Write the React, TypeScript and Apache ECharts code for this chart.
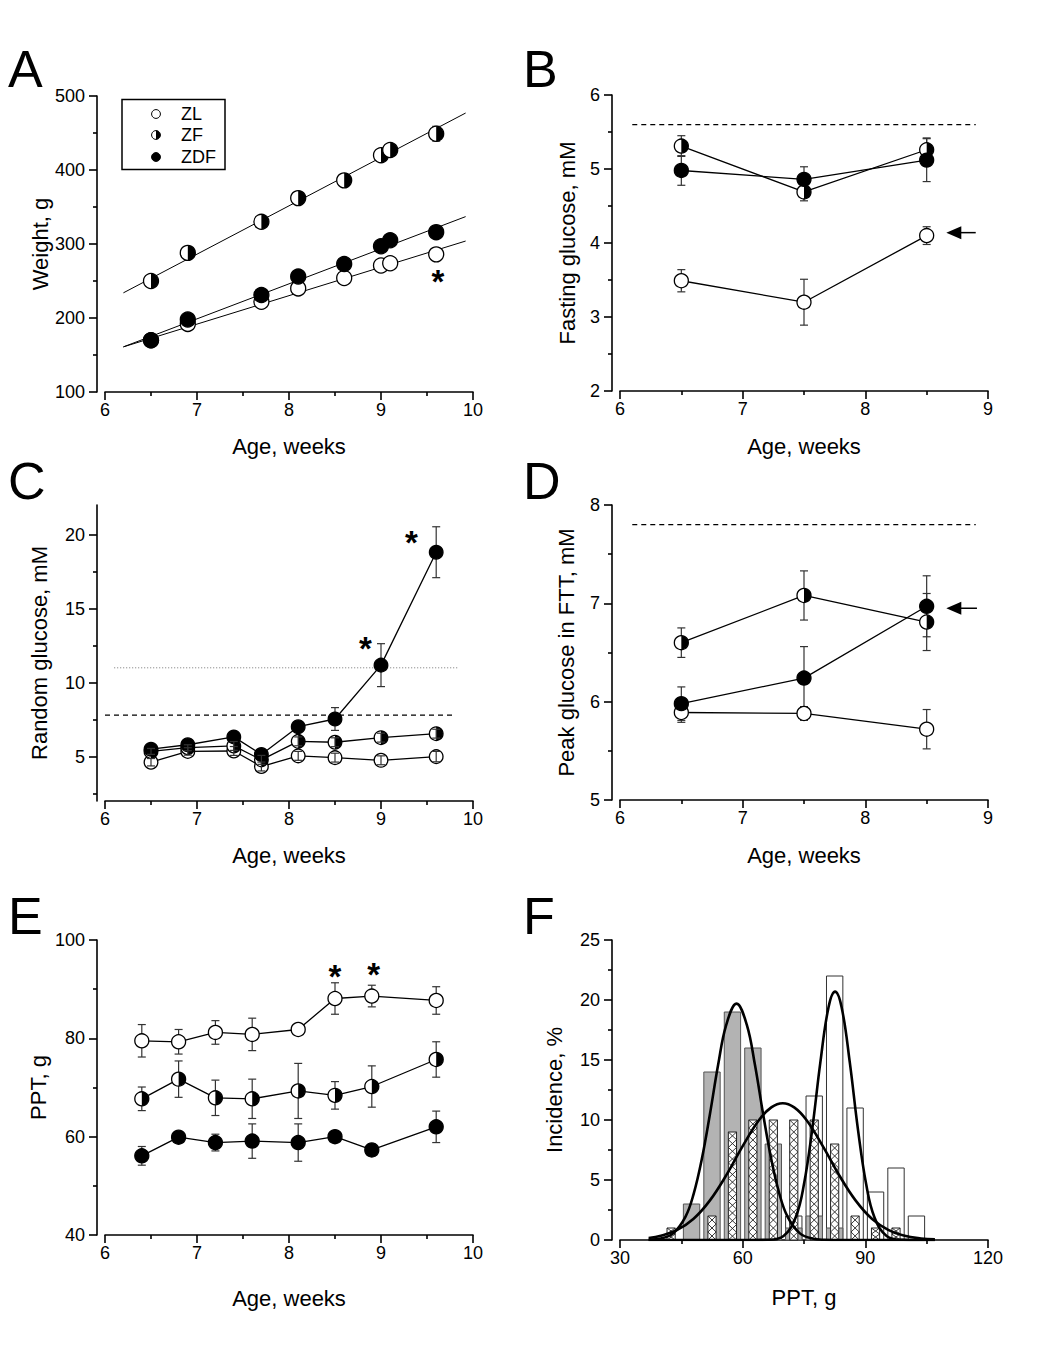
import React, { useEffect, useRef } from "react";
import * as echarts from "echarts";

const FONT = '"Liberation Sans", Arial, Helvetica, sans-serif';

// ---------- Panel A: body weight ----------
const A_AGE = [6.5, 6.9, 7.7, 8.1, 8.6, 9.0, 9.1, 9.6];
const A_WEIGHT_ZL = [170, 192, 222, 240, 254, 271, 274, 286];
const A_WEIGHT_ZF = [250, 288, 330, 362, 386, 420, 427, 449];
const A_WEIGHT_ZDF = [170, 198, 231, 256, 273, 297, 305, 316];
const A_ERR_ZF = [0, 0, 0, 0, 0, 0, 0, 10];
const A_FIT_AGE = [6.2, 9.92];
const A_FIT_ZL = [161, 304];
const A_FIT_ZF = [234, 477];
const A_FIT_ZDF = [161, 337];
const A_STAR_AGE = [9.62];
const A_STAR_Y = [253];

// ---------- Panel B: fasting glucose ----------
const B_AGE = [6.5, 7.5, 8.5];
const B_ZL = [3.49, 3.2, 4.1];
const B_ERR_ZL = [0.15, 0.31, 0.12];
const B_ZF = [5.31, 4.69, 5.26];
const B_ERR_ZF = [0.14, 0.12, 0.16];
const B_ZDF = [4.98, 4.86, 5.12];
const B_ERR_ZDF = [0.2, 0.17, 0.29];
const B_LIMIT_AGE = [6.1, 8.9];
const B_LIMIT = [5.6, 5.6];
const B_ARROW = [8.9, 8.66, 4.14];

// ---------- Panel C: random glucose ----------
const C_AGE = [6.5, 6.9, 7.4, 7.7, 8.1, 8.5, 9.0, 9.6];
const C_ZL = [4.62, 5.35, 5.38, 4.33, 5.05, 4.93, 4.75, 5.0];
const C_ERR_ZL = [0.25, 0.25, 0.3, 0.3, 0.3, 0.3, 0.3, 0.35];
const C_ZF = [5.35, 5.6, 5.72, 4.78, 6.03, 5.97, 6.28, 6.55];
const C_ERR_ZF = [0.2, 0.2, 0.3, 0.3, 0.3, 0.3, 0.3, 0.3];
const C_ZDF = [5.5, 5.8, 6.33, 5.14, 7.02, 7.54, 11.18, 18.81];
const C_ERR_ZDF = [0.2, 0.25, 0.3, 0.3, 0.3, 0.77, 1.45, 1.72];
const C_DIAB_AGE = [6.0, 9.8];
const C_DIAB = [7.8, 7.8];
const C_HIGH_AGE = [6.1, 9.85];
const C_HIGH = [11, 11];
const C_STAR_AGE = [8.83, 9.33];
const C_STAR_Y = [12.54, 19.66];
const C_MAJOR_TICKS = [5, 10, 15, 20];
const C_MINOR_TICKS = [2.5, 7.5, 12.5, 17.5];

// ---------- Panel D: peak glucose in FTT ----------
const D_AGE = [6.5, 7.5, 8.5];
const D_ZL = [5.89, 5.88, 5.72];
const D_ERR_ZL = [0.1, 0.07, 0.2];
const D_ZF = [6.6, 7.08, 6.81];
const D_ERR_ZF = [0.15, 0.25, 0.29];
const D_ZDF = [5.98, 6.24, 6.97];
const D_ERR_ZDF = [0.17, 0.32, 0.31];
const D_LIMIT_AGE = [6.1, 8.9];
const D_LIMIT = [7.8, 7.8];
const D_ARROW = [8.91, 8.66, 6.95];

// ---------- Panel E: PPT vs age ----------
const E_AGE = [6.4, 6.8, 7.2, 7.6, 8.1, 8.5, 8.9, 9.6];
const E_ZL = [79.5, 79.3, 81.2, 80.8, 81.8, 88.1, 88.6, 87.7];
const E_ERR_ZL = [3.3, 2.5, 2.4, 3.3, 1.0, 3.2, 2.2, 2.8];
const E_ZF = [67.7, 71.7, 67.9, 67.7, 69.3, 68.4, 70.2, 75.7];
const E_ERR_ZF = [2.4, 3.7, 3.6, 4.0, 5.6, 2.8, 4.2, 3.6];
const E_ZDF = [56.1, 59.9, 58.8, 59.1, 58.8, 60.0, 57.3, 62.0];
const E_ERR_ZDF = [1.9, 0.8, 1.7, 3.5, 3.8, 1.0, 1.2, 3.2];
const E_STAR_AGE = [8.5, 8.92];
const E_STAR_Y = [93.2, 93.5];

// ---------- Panel F: PPT histogram ----------
const F_BIN = [42.5, 47.5, 52.5, 57.5, 62.5, 67.5, 72.5, 77.5, 82.5, 87.5, 92.5, 97.5, 102.5];
const F_ZDF = [0, 3, 14, 19, 16, 8, 1, 2, 1, 0, 0, 0, 0];
const F_ZF = [1, 0, 2, 9, 10, 10, 10, 10, 8, 2, 1, 1, 0];
const F_ZL = [0, 0, 0, 0, 0, 0, 2, 12, 22, 11, 4, 6, 2];
const F_FIT_X_ZDF = [37, 40, 43, 46, 48, 50, 52, 54, 56, 58.5, 61, 63, 65, 67, 69, 71, 74, 77, 80, 84, 107];
const F_FIT_ZDF = [0.02, 0.12, 0.55, 1.93, 3.83, 6.73, 10.5, 14.6, 17.95, 19.7, 17.95, 14.6, 10.5, 6.73, 3.83, 1.93, 0.55, 0.12, 0.02, 0, 0];
const F_FIT_X_ZF = [37, 40, 44, 48, 52, 56, 60, 64, 67, 69.8, 72.6, 75.6, 79.6, 83.6, 87.6, 91.6, 95.6, 99.6, 103.6, 107];
const F_FIT_ZF = [0.17, 0.35, 0.84, 1.77, 3.3, 5.4, 7.83, 10.0, 11.05, 11.4, 11.05, 10.0, 7.83, 5.4, 3.3, 1.77, 0.84, 0.35, 0.13, 0.05];
const F_FIT_X_ZL = [37, 62, 66, 70, 73, 75, 77, 79, 81, 82.6, 84.2, 86.2, 88.2, 90.2, 92.2, 95.2, 99.2, 103, 107];
const F_FIT_ZL = [0, 0, 0.02, 0.34, 1.92, 4.66, 9.2, 14.8, 19.4, 20.7, 19.4, 14.8, 9.2, 4.66, 1.92, 0.34, 0.02, 0, 0];

// ---------- layout ----------
const GRIDS = [
  { left: 105, top: 96, width: 368, height: 296 },
  { left: 620, top: 95, width: 368, height: 296 },
  { left: 105, top: 505, width: 368, height: 296 },
  { left: 620, top: 505, width: 368, height: 295 },
  { left: 105, top: 940, width: 368, height: 295 },
  { left: 620, top: 940, width: 368, height: 300 },
];

const pts = (xs: number[], ys: number[]) => xs.map((x, i) => [x, ys[i]]);
const errPts = (xs: number[], ys: number[], es: number[]) => xs.map((x, i) => [x, ys[i], es[i]]);

const LINE_STYLE = { color: "#000", width: 1.6 };

function xAxis(g: number, min: number, max: number, interval: number, name: string, nameGap: number) {
  return {
    type: "value", gridIndex: g, min, max, interval,
    name, nameLocation: "middle", nameGap, nameMoveOverlap: false,
    nameTextStyle: { fontSize: 22, fontFamily: FONT, color: "#000" },
    axisLine: { show: true, onZero: false, lineStyle: LINE_STYLE },
    axisTick: { show: true, inside: false, length: 8, lineStyle: LINE_STYLE },
    minorTick: { show: true, splitNumber: 2, length: 4, lineStyle: LINE_STYLE },
    axisLabel: { show: true, fontSize: 18, fontFamily: FONT, color: "#000", margin: 9, showMinLabel: true, showMaxLabel: true },
    splitLine: { show: false }, minorSplitLine: { show: false },
  };
}

function yAxis(g: number, min: number, max: number, interval: number | undefined, name: string, nameGap: number, extra: any = {}) {
  const base: any = {
    type: "value", gridIndex: g, min, max, offset: 8, position: "left",
    name, nameLocation: "middle", nameGap, nameMoveOverlap: false,
    nameTextStyle: { fontSize: 22, fontFamily: FONT, color: "#000" },
    axisLine: { show: true, onZero: false, lineStyle: LINE_STYLE },
    axisTick: { show: true, inside: false, length: 8, lineStyle: LINE_STYLE },
    minorTick: { show: true, splitNumber: 2, length: 4, lineStyle: LINE_STYLE },
    axisLabel: { show: true, fontSize: 18, fontFamily: FONT, color: "#000", margin: 12, showMinLabel: true, showMaxLabel: true },
    splitLine: { show: false }, minorSplitLine: { show: false },
  };
  if (interval !== undefined) base.interval = interval;
  return { ...base, ...extra };
}

function markerRender(kind: string, r: number) {
  return (_p: any, api: any) => {
    const c = api.coord([api.value(0), api.value(1)]);
    const cx = c[0], cy = c[1];
    if (kind === "open") {
      return { type: "circle", shape: { cx, cy, r }, style: { fill: "#fff", stroke: "#000", lineWidth: 1.3 } };
    }
    if (kind === "filled") {
      return { type: "circle", shape: { cx, cy, r }, style: { fill: "#000", stroke: "#000", lineWidth: 1.3 } };
    }
    return {
      type: "group",
      children: [
        { type: "circle", shape: { cx, cy, r }, style: { fill: "#fff" } },
        { type: "sector", shape: { cx, cy, r0: 0, r, startAngle: -Math.PI / 2, endAngle: Math.PI / 2, clockwise: true }, style: { fill: "#000" } },
        { type: "circle", shape: { cx, cy, r }, style: { fill: "none", stroke: "#000", lineWidth: 1.3 } },
      ],
    };
  };
}

function errRender(_p: any, api: any) {
  const x = api.value(0), y = api.value(1), e = api.value(2);
  if (!e) return null;
  const t = api.coord([x, y + e]);
  const b = api.coord([x, y - e]);
  const hw = 4;
  const st = { stroke: "#333", lineWidth: 1.2 };
  return {
    type: "group",
    children: [
      { type: "line", shape: { x1: t[0], y1: t[1], x2: b[0], y2: b[1] }, style: st },
      { type: "line", shape: { x1: t[0] - hw, y1: t[1], x2: t[0] + hw, y2: t[1] }, style: st },
      { type: "line", shape: { x1: b[0] - hw, y1: b[1], x2: b[0] + hw, y2: b[1] }, style: st },
    ],
  };
}

function arrowRender(_p: any, api: any) {
  const tail = api.coord([api.value(0), api.value(2)]);
  const tip = api.coord([api.value(1), api.value(2)]);
  const L = 15, H = 6.5;
  return {
    type: "group",
    children: [
      { type: "line", shape: { x1: tail[0], y1: tail[1], x2: tip[0] + L - 1, y2: tip[1] }, style: { stroke: "#000", lineWidth: 1.5 } },
      { type: "polygon", shape: { points: [[tip[0], tip[1]], [tip[0] + L, tip[1] - H], [tip[0] + L, tip[1] + H]] }, style: { fill: "#000" } },
    ],
  };
}

function starRender(_p: any, api: any) {
  const c = api.coord([api.value(0), api.value(1)]);
  return {
    type: "text", x: c[0], y: c[1] + 3,
    style: { text: "*", fontSize: 33, fontWeight: "bold", fontFamily: FONT, fill: "#000", align: "center", verticalAlign: "middle" },
  };
}

function barRender(kind: string, widthUnits: number) {
  return (_p: any, api: any) => {
    const x = api.value(0), v = api.value(1);
    if (!v) return null;
    const base = api.coord([x, 0]);
    const top = api.coord([x, v]);
    const w = api.size([widthUnits, 0])[0];
    const l = base[0] - w / 2;
    const h = base[1] - top[1];
    if (kind === "gray") {
      return { type: "rect", shape: { x: l, y: top[1], width: w, height: h }, style: { fill: "#b3b3b3", stroke: "#555", lineWidth: 1 } };
    }
    if (kind === "white") {
      return { type: "rect", shape: { x: l, y: top[1], width: w, height: h }, style: { fill: "#fff", stroke: "#333", lineWidth: 1 } };
    }
    const n = Math.max(1, Math.round(h / 8));
    const p = h / n;
    const r = l + w;
    const p1: number[][] = [];
    const p2: number[][] = [];
    for (let i = 0; i <= n; i++) {
      const yy = base[1] - i * p;
      p1.push([i % 2 === 0 ? l : r, yy]);
      p2.push([i % 2 === 0 ? r : l, yy]);
    }
    return {
      type: "group",
      children: [
        { type: "rect", shape: { x: l, y: top[1], width: w, height: h }, style: { fill: "#fff", stroke: "#222", lineWidth: 1 } },
        { type: "polyline", shape: { points: p1 }, style: { stroke: "#222", lineWidth: 0.9, fill: "none" } },
        { type: "polyline", shape: { points: p2 }, style: { stroke: "#222", lineWidth: 0.9, fill: "none" } },
      ],
    };
  };
}

const custom = (g: number, data: any[], renderItem: any, z = 3, yIdx?: number) => ({
  type: "custom", xAxisIndex: g, yAxisIndex: yIdx === undefined ? g : yIdx, data, renderItem, z, silent: true, clip: false,
});

const line = (g: number, data: any[], style: any = {}, z = 2) => ({
  type: "line", xAxisIndex: g, yAxisIndex: g, data, symbol: "none", silent: true, z,
  lineStyle: { color: "#000", width: 1.3, ...style },
});

function buildOption() {
  const series: any[] = [];
  // Panel A
  series.push(line(0, pts(A_FIT_AGE, A_FIT_ZL), { width: 1 }));
  series.push(line(0, pts(A_FIT_AGE, A_FIT_ZF), { width: 1 }));
  series.push(line(0, pts(A_FIT_AGE, A_FIT_ZDF), { width: 1 }));
  series.push(custom(0, errPts(A_AGE, A_WEIGHT_ZF, A_ERR_ZF), errRender, 3));
  series.push(custom(0, pts(A_AGE, A_WEIGHT_ZL), markerRender("open", 7.5), 4));
  series.push(custom(0, pts(A_AGE, A_WEIGHT_ZF), markerRender("half", 7.5), 4));
  series.push(custom(0, pts(A_AGE, A_WEIGHT_ZDF), markerRender("filled", 7.5), 4));
  series.push(custom(0, pts(A_STAR_AGE, A_STAR_Y), starRender, 5));

  // Panel B
  series.push(line(1, pts(B_LIMIT_AGE, B_LIMIT), { width: 1.2, type: [5, 4] }));
  series.push(custom(1, [B_ARROW], arrowRender, 3));
  series.push(custom(1, errPts(B_AGE, B_ZL, B_ERR_ZL), errRender, 3));
  series.push(custom(1, errPts(B_AGE, B_ZF, B_ERR_ZF), errRender, 3));
  series.push(custom(1, errPts(B_AGE, B_ZDF, B_ERR_ZDF), errRender, 3));
  series.push(line(1, pts(B_AGE, B_ZL)));
  series.push(line(1, pts(B_AGE, B_ZF)));
  series.push(line(1, pts(B_AGE, B_ZDF)));
  series.push(custom(1, pts(B_AGE, B_ZL), markerRender("open", 7), 4));
  series.push(custom(1, pts(B_AGE, B_ZF), markerRender("half", 7), 4));
  series.push(custom(1, pts(B_AGE, B_ZDF), markerRender("filled", 7), 4));

  // Panel C
  series.push(line(2, pts(C_DIAB_AGE, C_DIAB), { width: 1.2, type: [5, 4] }));
  series.push(line(2, pts(C_HIGH_AGE, C_HIGH), { width: 1, color: "#777", type: [1, 2] }));
  series.push(line(2, pts(C_AGE, C_ZL)));
  series.push(line(2, pts(C_AGE, C_ZF)));
  series.push(line(2, pts(C_AGE, C_ZDF)));
  series.push(custom(2, pts(C_AGE, C_ZL), markerRender("open", 6.8), 4));
  series.push(custom(2, pts(C_AGE, C_ZF), markerRender("half", 6.8), 4));
  series.push(custom(2, pts(C_AGE, C_ZDF), markerRender("filled", 6.8), 4));
  series.push(custom(2, errPts(C_AGE, C_ZL, C_ERR_ZL), errRender, 5));
  series.push(custom(2, errPts(C_AGE, C_ZF, C_ERR_ZF), errRender, 5));
  series.push(custom(2, errPts(C_AGE, C_ZDF, C_ERR_ZDF), errRender, 3));
  series.push(custom(2, pts(C_STAR_AGE, C_STAR_Y), starRender, 5));

  // Panel D
  series.push(line(3, pts(D_LIMIT_AGE, D_LIMIT), { width: 1.2, type: [5, 4] }));
  series.push(custom(3, [D_ARROW], arrowRender, 3));
  series.push(custom(3, errPts(D_AGE, D_ZL, D_ERR_ZL), errRender, 3));
  series.push(custom(3, errPts(D_AGE, D_ZF, D_ERR_ZF), errRender, 3));
  series.push(custom(3, errPts(D_AGE, D_ZDF, D_ERR_ZDF), errRender, 3));
  series.push(line(3, pts(D_AGE, D_ZL)));
  series.push(line(3, pts(D_AGE, D_ZF)));
  series.push(line(3, pts(D_AGE, D_ZDF)));
  series.push(custom(3, pts(D_AGE, D_ZL), markerRender("open", 7), 4));
  series.push(custom(3, pts(D_AGE, D_ZF), markerRender("half", 7), 4));
  series.push(custom(3, pts(D_AGE, D_ZDF), markerRender("filled", 7), 4));

  // Panel E
  series.push(custom(4, errPts(E_AGE, E_ZL, E_ERR_ZL), errRender, 3));
  series.push(custom(4, errPts(E_AGE, E_ZF, E_ERR_ZF), errRender, 3));
  series.push(custom(4, errPts(E_AGE, E_ZDF, E_ERR_ZDF), errRender, 3));
  series.push(line(4, pts(E_AGE, E_ZL)));
  series.push(line(4, pts(E_AGE, E_ZF)));
  series.push(line(4, pts(E_AGE, E_ZDF)));
  series.push(custom(4, pts(E_AGE, E_ZL), markerRender("open", 7), 4));
  series.push(custom(4, pts(E_AGE, E_ZF), markerRender("half", 7), 4));
  series.push(custom(4, pts(E_AGE, E_ZDF), markerRender("filled", 7), 4));
  series.push(custom(4, pts(E_STAR_AGE, E_STAR_Y), starRender, 5));

  // Panel F
  series.push(custom(5, pts(F_BIN, F_ZL), barRender("white", 4), 2));
  series.push(custom(5, pts(F_BIN, F_ZDF), barRender("gray", 4), 2));
  series.push(custom(5, pts(F_BIN, F_ZF), barRender("hatch", 2), 2));
  const curve = (xs: number[], ys: number[]) => ({
    type: "line", xAxisIndex: 5, yAxisIndex: 5, data: pts(xs, ys), symbol: "none", smooth: 0.4, silent: true, z: 6,
    lineStyle: { color: "#000", width: 2.6 },
  });
  series.push(curve(F_FIT_X_ZDF, F_FIT_ZDF));
  series.push(curve(F_FIT_X_ZF, F_FIT_ZF));
  series.push(curve(F_FIT_X_ZL, F_FIT_ZL));

  const xAxes = [
    xAxis(0, 6, 10, 1, "Age, weeks", 43),
    xAxis(1, 6, 9, 1, "Age, weeks", 44),
    xAxis(2, 6, 10, 1, "Age, weeks", 43),
    xAxis(3, 6, 9, 1, "Age, weeks", 44),
    xAxis(4, 6, 10, 1, "Age, weeks", 52),
    xAxis(5, 30, 120, 30, "PPT, g", 46),
  ];
  const yAxes = [
    yAxis(0, 100, 500, 100, "Weight, g", 46),
    yAxis(1, 2, 6, 1, "Fasting glucose, mM", 34),
    yAxis(2, 2, 22, undefined, "Random glucose, mM", 47, {
      axisTick: { show: true, inside: false, length: 8, lineStyle: LINE_STYLE, customValues: C_MAJOR_TICKS },
      axisLabel: { show: true, fontSize: 18, fontFamily: FONT, color: "#000", margin: 12, customValues: C_MAJOR_TICKS },
      minorTick: { show: false },
    }),
    yAxis(3, 5, 8, 1, "Peak glucose in FTT, mM", 35),
    yAxis(4, 40, 100, 20, "PPT, g", 48),
    yAxis(5, 0, 25, 5, "Incidence, %", 47),
    yAxis(2, 2, 22, undefined, "", 0, {
      axisLine: { show: false },
      axisLabel: { show: false },
      axisTick: { show: true, inside: false, length: 4, lineStyle: LINE_STYLE, customValues: C_MINOR_TICKS },
      minorTick: { show: false },
    }),
  ];

  const letter = (t: string, x: number, y: number) => ({
    type: "text", x, y, silent: true,
    style: { text: t, fontSize: 52, fontFamily: FONT, fill: "#000", align: "left", verticalAlign: "middle" },
  });
  const legendText = (t: string, y: number) => ({
    type: "text", x: 181, y, silent: true,
    style: { text: t, fontSize: 18, fontFamily: FONT, fill: "#000", align: "left", verticalAlign: "middle" },
  });
  const LR = 4.4;
  const graphic: any[] = [
    letter("A", 8, 69),
    letter("B", 523, 69),
    letter("C", 8, 481),
    letter("D", 523, 481),
    letter("E", 8, 916),
    letter("F", 523, 916),
    { type: "rect", shape: { x: 122, y: 99.5, width: 103, height: 70 }, style: { fill: "#fff", stroke: "#000", lineWidth: 1.5 }, z: 10 },
    { type: "circle", shape: { cx: 156, cy: 114, r: LR }, style: { fill: "#fff", stroke: "#000", lineWidth: 1 }, z: 11 },
    { type: "circle", shape: { cx: 156, cy: 135, r: LR }, style: { fill: "#fff", stroke: "none" }, z: 11 },
    { type: "sector", shape: { cx: 156, cy: 135, r0: 0, r: LR, startAngle: -Math.PI / 2, endAngle: Math.PI / 2, clockwise: true }, style: { fill: "#000" }, z: 11 },
    { type: "circle", shape: { cx: 156, cy: 135, r: LR }, style: { fill: "none", stroke: "#000", lineWidth: 1 }, z: 11 },
    { type: "circle", shape: { cx: 156, cy: 157, r: LR }, style: { fill: "#000", stroke: "#000", lineWidth: 1 }, z: 11 },
    { ...legendText("ZL", 114), z: 11 },
    { ...legendText("ZF", 135), z: 11 },
    { ...legendText("ZDF", 157), z: 11 },
  ];

  return {
    animation: false,
    backgroundColor: "#fff",
    grid: GRIDS.map((g) => ({ ...g, outerBoundsMode: "none" })),
    xAxis: xAxes,
    yAxis: yAxes,
    series,
    graphic,
  };
}

export default function App() {
  const ref = useRef<HTMLDivElement | null>(null);
  useEffect(() => {
    document.body.style.margin = "0";
    if (!ref.current) return;
    const chart = echarts.init(ref.current, undefined, { renderer: "svg" });
    chart.setOption(buildOption() as any);
    return () => chart.dispose();
  }, []);
  return <div ref={ref} style={{ width: 1050, height: 1363, background: "#fff" }} />;
}
